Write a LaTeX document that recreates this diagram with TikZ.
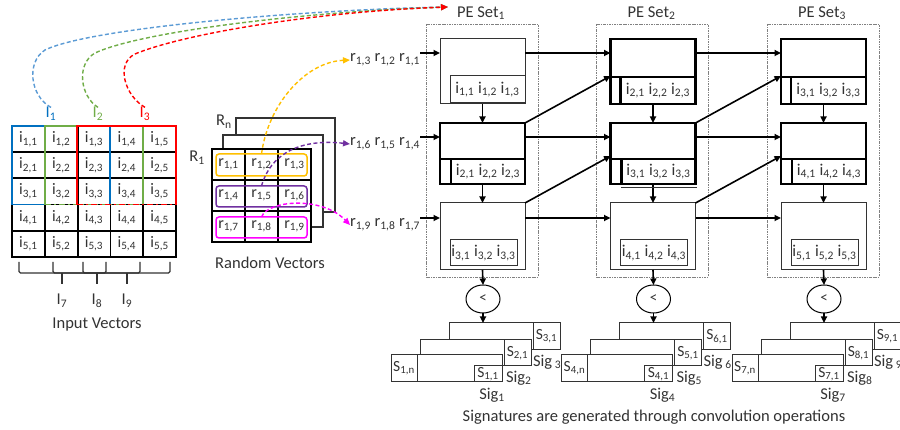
\documentclass[tikz,border=0pt]{standalone}
\usepackage{fontspec}
\setmainfont{Carlito}
\usetikzlibrary{arrows.meta,calc,shapes.geometric}
\definecolor{txt}{HTML}{333333}
\definecolor{cblue}{HTML}{0070C0}
\definecolor{lblue}{HTML}{5B9BD5}
\definecolor{cgreen}{HTML}{70AD47}
\definecolor{cred}{HTML}{FF0000}
\definecolor{cyel}{HTML}{FFC000}
\definecolor{cpur}{HTML}{7030A0}
\definecolor{cmag}{HTML}{FF00FF}
\newcommand{\sbx}[1]{\textsubscript{#1}}
\begin{document}
\begin{tikzpicture}[x=1pt,y=-1pt,
  cell/.style={draw=black, line width=1.8pt, minimum width=32.8pt, minimum height=26.2pt, inner sep=0pt, outer sep=0pt, font=\fontsize{16}{19}\selectfont, text=txt},
  rcell/.style={draw=black, line width=1.3pt, minimum width=33pt, minimum height=31pt, inner sep=0pt, outer sep=0pt, font=\fontsize{16}{19}\selectfont, text=txt},
  rowbox/.style={draw=#1, line width=1.5pt, rounded corners=3pt, minimum width=91pt, inner sep=0pt, outer sep=0pt},
  lbl/.style={font=\fontsize{16.5}{19}\selectfont, text=txt, inner sep=0pt, outer sep=0pt},
  slbl/.style={font=\fontsize{15.5}{18}\selectfont, text=txt, inner sep=0pt, outer sep=0pt},
  pethin/.style={draw=txt, line width=1pt, fill=white, minimum width=85pt, inner sep=0pt, outer sep=0pt, anchor=north west},
  pethick/.style={draw=black, line width=2.2pt, fill=white, minimum width=85pt, inner sep=0pt, outer sep=0pt, anchor=north west},
  inbox/.style={draw=txt, line width=1pt, inner sep=0pt, outer sep=0pt, anchor=north west, font=\fontsize{16.5}{19}\selectfont, text=txt},
  thl/.style={draw=black, line width=2.2pt},
  peset/.style={draw=gray, line width=0.9pt, dash pattern=on 2.5pt off 1pt on 0.8pt off 1pt},
  arr/.style={-{Triangle[length=6.5pt,width=6pt]}, line width=1.6pt, draw=black},
  darr/.style={-{Triangle[length=7pt,width=6pt]}, line width=1.4pt, dash pattern=on 4pt off 2.5pt},
  sigr/.style={draw=txt, line width=1pt, fill=white, inner sep=0pt, outer sep=0pt, anchor=north west},
  cmp/.style={draw=black, line width=1pt, ellipse, minimum width=34pt, minimum height=28pt, inner sep=0pt, outer sep=0pt, font=\fontsize{15}{18}\selectfont, text=txt},
  brk/.style={draw=txt, line width=1.3pt, rounded corners=1.5pt},
  frm/.style={draw=txt, line width=1.2pt, fill=white},
  cl/.style={line width=1.8pt},
  dd/.style={line width=1.8pt, dash pattern=on 6pt off 3pt on 2pt off 3pt}]
\clip (0,0) rectangle (900,430);
\fill[white] (0,0) rectangle (900,430);

% ---------- input vectors ----------
\foreach \r in {1,...,5}{\foreach \c in {1,...,5}{
  \node[cell] (c\r\c) at ({12+32.8*(\c-0.5)},{126+26.2*(\r-0.5)}) {i\sbx{\r,\c}};}}
\draw[cblue,cl] (12,204.6) -- (12,126) -- (110,126) -- (110,204.6);
\draw[cblue,cl] (12,204.6) -- (45,204.6);
\draw[cgreen,cl] (45,204.6) -- (45,126) -- (143,126) -- (143,204.6);
\draw[cgreen,dd] (45,204.6) -- (143,204.6);
\draw[cred,cl] (77,204.6) -- (77,126) -- (176,126) -- (176,204.6);
\draw[cred,dd] (77,204.6) -- (176,204.6);

\node[lbl, text=cblue] (I1) at (51,114) {I\sbx{1}};
\node[lbl, text=cgreen] (I2) at (98,114) {I\sbx{2}};
\node[lbl, text=cred] (I3) at (145,114) {I\sbx{3}};
\coordinate (tgt) at (448,7);
\draw[darr, lblue] (I1.north) .. controls (30,96) and (26,62) .. (45,50) .. controls (90,28) and (300,10) .. (tgt);
\draw[darr, cgreen] (I2.north) .. controls (80,96) and (76,64) .. (95,53) .. controls (140,32) and (300,12) .. (tgt);
\draw[darr, cred] (I3.north) .. controls (125,96) and (115,64) .. (135,54) .. controls (180,35) and (310,12) .. (tgt);

% braces
\draw[brk] (19,262) -- (19,273) -- (106,273) -- (106,262);
\draw[brk] (53,262) -- (53,273) -- (140,273) -- (140,262);
\draw[brk] (83,262) -- (83,273) -- (170,273) -- (170,262);
\draw[brk] (62,273) -- (62,284);
\draw[brk] (97,273) -- (97,284);
\draw[brk, line width=2pt] (127,273) -- (127,284);
\node[lbl] (I7) at (62,301) {I\sbx{7}};
\node[lbl] (I8) at (97,301) {I\sbx{8}};
\node[lbl] (I9) at (127,301) {I\sbx{9}};
\node[lbl] (iv) at (97,325) {Input Vectors};

% ---------- random vectors ----------
\draw[frm] (236,118) rectangle (335,212);
\draw[frm] (223,135) rectangle (323,227);
\fill[white] (212,149) rectangle (311,242);
\foreach \r/\a/\b/\cc in {1/1/2/3,2/4/5/6,3/7/8/9}{
  \node[rcell] (rc\r1) at (228.5,{149+31*(\r-0.5)}) {r\sbx{1,\a}};
  \node[rcell] (rc\r2) at (261.5,{149+31*(\r-0.5)}) {r\sbx{1,\b}};
  \node[rcell] (rc\r3) at (294.5,{149+31*(\r-0.5)}) {r\sbx{1,\cc}};}
\node[rowbox=cyel, minimum height=22pt] (yb) at (261.5,165) {};
\node[rowbox=cpur, minimum height=21pt] (pb) at (261.5,196.5) {};
\node[rowbox=cmag, minimum height=21pt] (mb) at (261.5,227.5) {};
\node[lbl] (R1) at (197,158) {R\sbx{1}};
\node[lbl] (Rn) at (224,122) {R\sbx{n}};
\node[lbl] (rv) at (270,263) {Random Vectors};

\node[lbl, anchor=base east] (rl1) at (420,62) {r\sbx{1,3} r\sbx{1,2} r\sbx{1,1}};
\node[lbl, anchor=base east] (rl2) at (420,146) {r\sbx{1,6} r\sbx{1,5} r\sbx{1,4}};
\node[lbl, anchor=base east] (rl3) at (420,227) {r\sbx{1,9} r\sbx{1,8} r\sbx{1,7}};
\draw[darr, cyel] (yb.north) .. controls (268,105) and (305,62) .. (rl1.west);
\draw[darr, cpur] (pb.north) .. controls (272,150) and (305,139) .. (rl2.west);
\draw[darr, cmag] (mb.north) .. controls (268,200) and (322,196) .. (rl3.west);

% ---------- PE sets ----------
\foreach \s in {1,2,3}{
  \pgfmathsetmacro{\X}{440+170.5*(\s-1)}
  \pgfmathtruncatemacro{\ib}{\s+1}
  \pgfmathtruncatemacro{\ic}{\s+2}
  \pgfmathtruncatemacro{\sa}{3*\s}
  \pgfmathtruncatemacro{\sbb}{3*\s-1}
  \pgfmathtruncatemacro{\sc}{3*\s-2}
  \draw[peset] (\X-14,24) rectangle (\X+98,277);
  \node[lbl] (pl\s) at (\X+41,13) {PE Set\sbx{\s}};
  % box 1
  \ifnum\s=1
    \node[pethin, minimum height=65pt] (p\s1) at (\X,39) {};
    \node[inbox, minimum width=75pt, minimum height=27pt] (q\s1) at (\X+10,76) {i\sbx{\s,1} i\sbx{\s,2} i\sbx{\s,3}};
  \else
    \node[pethick, minimum height=65pt] (p\s1) at (\X,39) {};
    \draw[thl] (\X,77) -- (\X+85,77);
    \draw[thl] (\X+10,77) -- (\X+10,104);
    \node[lbl] (q\s1) at (\X+47.5,90.5) {i\sbx{\s,1} i\sbx{\s,2} i\sbx{\s,3}};
  \fi
  % box 2
  \node[pethick, minimum height=61pt] (p\s2) at (\X,123) {};
  \draw[thl] (\X,159) -- (\X+85,159);
  \draw[thl] (\X+11,159) -- (\X+11,184);
  \node[lbl] (q\s2) at (\X+48,171.5) {i\sbx{\ib,1} i\sbx{\ib,2} i\sbx{\ib,3}};
  % box 3
  \node[pethin, minimum height=67pt] (p\s3) at (\X,203) {};
  \node[inbox, minimum width=67pt, minimum height=26pt] (q\s3) at (\X+10,240) {i\sbx{\ic,1} i\sbx{\ic,2} i\sbx{\ic,3}};
  \coordinate (in\s1) at (\X,53);
  \coordinate (in\s2) at (\X,137);
  \coordinate (in\s3) at (\X,218);
  \coordinate (dg\s1) at (\X,76);
  \coordinate (dg\s2) at (\X,156);
  \draw[arr] (p\s1.south) -- (p\s2.north);
  \draw[arr] (p\s2.south) -- (p\s3.north);
  \node[cmp] (cmp\s) at (\X+43,299) {<};
  \draw[arr] (p\s3.south) -- (cmp\s.north);
  % signatures
  \node[sigr, minimum width=111pt, minimum height=27pt] (sb\s) at (\X+9,323) {};
  \node[sigr, minimum width=27pt, minimum height=27pt, slbl] (sa\s) at (\X+93,323) {S\sbx{\sa,1}};
  \node[sigr, minimum width=111pt, minimum height=26pt] (sm\s) at (\X-20,340) {};
  \node[sigr, minimum width=27pt, minimum height=26pt, slbl] (sn\s) at (\X+64,340) {S\sbx{\sbb,1}};
  \node[sigr, minimum width=111pt, minimum height=27pt] (sf\s) at (\X-49,355) {};
  \node[sigr, minimum width=26pt, minimum height=27pt, slbl] (sx\s) at (\X-49,355) {S\sbx{\sc,n}};
  \node[sigr, minimum width=28pt, minimum height=16pt, slbl] (sy\s) at (\X+34,366) {S\sbx{\sc,1}};
  \node[lbl, anchor=west] (ga\s) at (\X+93,362) {Sig\,\sbx{\sa}};
  \node[lbl, anchor=west] (gb\s) at (\X+66,378) {Sig\sbx{\sbb}};
  \node[lbl] (gc\s) at (\X+52,395) {Sig\sbx{\sc}};
  \draw[arr] (cmp\s.south) -- (cmp\s.south |- sb\s.north);
}
\draw[line width=0.8pt, txt] (621,187.5) -- (697,187.5);

\draw[arr] (rl1.east |- in11) -- (in11);
\draw[arr] (rl2.east |- in12) -- (in12);
\draw[arr] (rl3.east |- in13) -- (in13);
\foreach \a/\b in {1/2,2/3}{
  \draw[arr] (p\a1.east |- in\b1) -- (in\b1);
  \draw[arr] (p\a2.east |- in\b2) -- (in\b2);
  \draw[arr] (p\a3.east |- in\b3) -- (in\b3);
  \draw[arr] (p\a2.north east) -- (dg\b1);
  \draw[arr] (p\a3.north east) -- (dg\b2);
}

\node[lbl] (cap) at (654,417) {Signatures are generated through convolution operations};
\end{tikzpicture}
\end{document}
